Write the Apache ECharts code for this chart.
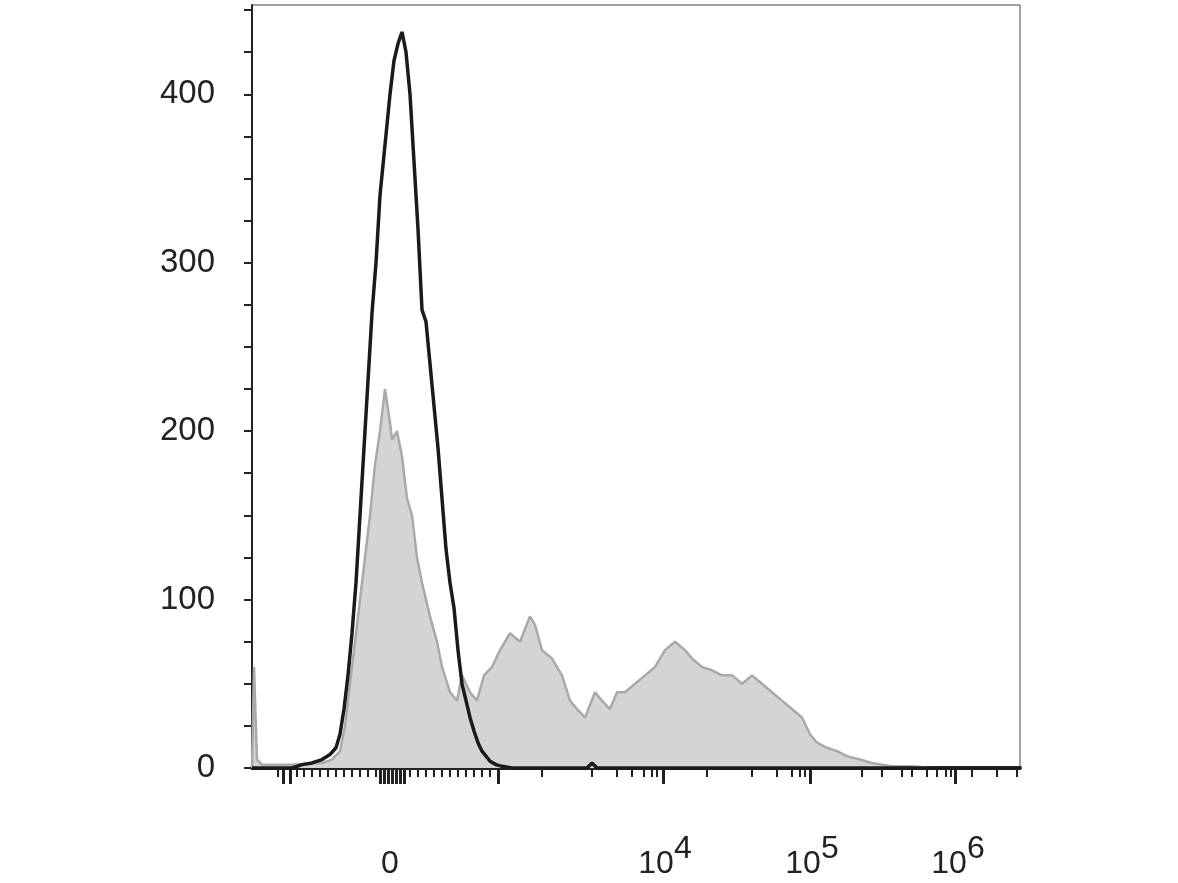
<!DOCTYPE html>
<html style="height: 100%">
<head>
    <meta charset="UTF-8">
    <title>histogram</title>
    <script src="https://cdn.jsdelivr.net/npm/echarts@6/dist/echarts.min.js"></script>
</head>
<body style="height: 100%; margin: 0; background: #fff">
<div id="main" style="width: 1178px; height: 883px"></div>
<script type="text/javascript">
// x is in display channel units (0..768)
var blackX = [0, 40, 50, 60, 70, 78, 84, 88, 92, 96, 100, 104, 108, 112, 116, 120, 124, 128, 133, 138, 142, 146, 150, 154, 158, 162, 166, 170, 174, 178, 182, 186, 190, 194, 198, 202, 206, 210, 214, 218, 222, 226, 230, 234, 238, 244, 250, 260, 280, 335, 340, 345, 768];
var blackY = [0, 0, 2, 3, 5, 8, 12, 20, 35, 55, 80, 110, 150, 190, 230, 270, 300, 340, 370, 400, 420, 430, 437, 425, 400, 360, 320, 272, 265, 240, 215, 190, 160, 130, 110, 95, 70, 50, 40, 30, 22, 15, 10, 7, 4, 2, 1, 0, 0, 0, 3, 0, 0];
var grayX = [0, 2, 5, 10, 40, 70, 80, 88, 93, 98, 103, 108, 113, 118, 123, 128, 133, 138, 140, 145, 150, 155, 160, 165, 170, 178, 185, 190, 198, 205, 210, 218, 225, 232, 240, 248, 258, 268, 278, 283, 290, 300, 310, 318, 325, 333, 343, 350, 358, 365, 373, 383, 393, 403, 413, 423, 433, 440, 450, 460, 470, 480, 490, 500, 510, 520, 530, 540, 550, 558, 565, 575, 585, 595, 608, 620, 630, 640, 660, 680, 700, 768];
var grayY = [0, 60, 5, 2, 2, 3, 5, 10, 25, 50, 75, 100, 125, 150, 180, 200, 225, 205, 195, 200, 185, 160, 150, 125, 110, 90, 75, 60, 45, 40, 55, 45, 40, 55, 60, 70, 80, 75, 90, 85, 70, 65, 55, 40, 35, 30, 45, 40, 35, 45, 45, 50, 55, 60, 70, 75, 70, 65, 60, 58, 55, 55, 50, 55, 50, 45, 40, 35, 30, 20, 15, 12, 10, 7, 5, 3, 2, 1, 1, 0, 0, 0];
var majorTicks = [31, 38, 128, 132, 136, 140, 144, 148, 152, 246, 411, 558, 703];
var minorTicks = [26, 45, 52, 60, 68, 76, 84, 92, 100, 108, 116, 124, 158, 166, 174, 182, 190, 198, 206, 214, 222, 230, 238, 290, 340, 365, 380, 392, 400, 405, 455, 500, 525, 540, 548, 553, 610, 630, 650, 660, 675, 685, 694, 699, 720, 745, 765];
var xLabelPos = [138, 413, 560, 706];
var xLabelText = ['0', '10^4', '10^5', '10^6'];
var yTicks = [0, 100, 200, 300, 400];

function pairs(xs, ys) { return xs.map(function (x, i) { return [x, ys[i]]; }); }

var chart = echarts.init(document.getElementById('main'));
chart.setOption({
    animation: false,
    grid: { left: 252, right: 158, top: 5, bottom: 115, show: true, borderColor: '#444', borderWidth: 1 },
    xAxis: [{
        type: 'value', min: 0, max: 768,
        splitLine: { show: false },
        axisLine: { lineStyle: { color: '#222', width: 4 } },
        axisTick: { customValues: majorTicks, length: 16, lineStyle: { color: '#222', width: 3 } },
        axisLabel: {
            customValues: xLabelPos, margin: 64, color: '#222',
            fontFamily: 'Liberation Sans', fontSize: 32,
            formatter: function (v) {
                var t = xLabelText[xLabelPos.indexOf(v)] || '';
                if (t.indexOf('^') < 0) return '{b|' + t + '}';
                var p = t.split('^');
                return '{b|' + p[0] + '}{s|' + p[1] + '}';
            },
            rich: {
                b: { fontSize: 32, fontFamily: 'Liberation Sans', color: '#222', padding: [16, 0, 0, 0] },
                s: { fontSize: 32, fontFamily: 'Liberation Sans', color: '#222', padding: [0, 0, 14, 0] }
            }
        }
    }, {
        type: 'value', min: 0, max: 768, position: 'bottom',
        splitLine: { show: false }, axisLine: { show: false }, axisLabel: { show: false },
        axisTick: { customValues: minorTicks, length: 9, lineStyle: { color: '#222', width: 2 } }
    }],
    yAxis: {
        type: 'value', min: 0, max: 453, offset: 7,
        splitLine: { show: false },
        axisLine: { show: true, lineStyle: { color: '#222', width: 2 } },
        axisTick: { customValues: [0, 50, 100, 150, 200, 250, 300, 350, 400, 450, 25, 75, 125, 175, 225, 275, 325, 375, 425],
            length: 8, lineStyle: { color: '#222', width: 2 } },
        axisLabel: { customValues: yTicks, margin: 30, fontSize: 33, fontFamily: 'Liberation Sans', color: '#222' }
    },
    series: [{
        type: 'line', data: pairs(grayX, grayY), symbol: 'none',
        lineStyle: { color: '#a9a9a9', width: 2.5 },
        areaStyle: { color: '#d4d4d4', opacity: 1 }
    }, {
        type: 'line', data: pairs(blackX, blackY), symbol: 'none',
        lineStyle: { color: '#1a1a1a', width: 3.5 }
    }]
});
</script>
</body>
</html>
